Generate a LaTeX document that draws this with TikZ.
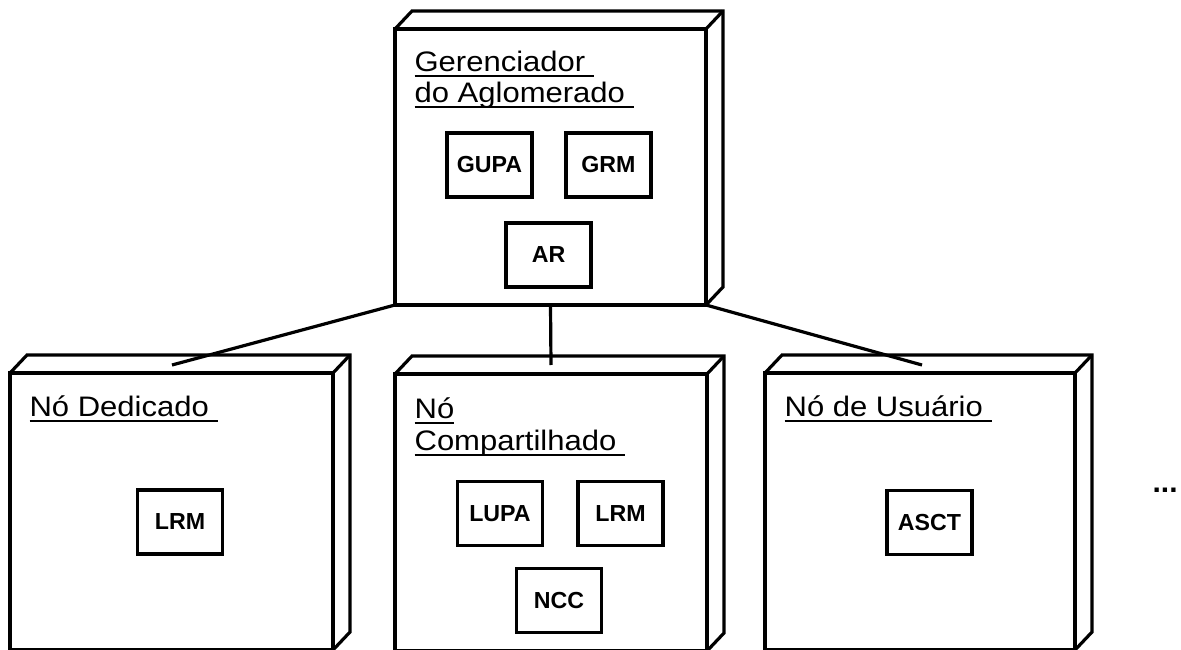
\documentclass[tikz,border=0pt]{standalone}
\usepackage{fontspec}
\setmainfont[FakeStretch=1.1]{Liberation Sans}
\newfontfamily\compfont{Liberation Sans}
\usetikzlibrary{calc}
\newcommand\myul[1]{\setbox0\hbox{#1}\rlap{\rule[-5.5pt]{\wd0}{1.7pt}}\box0}
\newcommand\cubesides[1]{\draw[line join=miter] (#1.north west) -- ++(17,-18) -| ($(#1.south east)+(17,-18)$) -- (#1.south east);
  \draw (#1.north east) -- ++(17,-18);}
\begin{document}
\begin{tikzpicture}[x=1pt,y=-1pt, line width=3.2pt,
  face/.style={draw, rectangle, inner sep=0pt, outer sep=0pt},
  comp/.style={draw, rectangle, minimum width=85pt, minimum height=64pt, inner sep=0pt, font=\compfont\fontsize{23.2}{26}\selectfont\bfseries},
  title/.style={anchor=base west, inner sep=0pt, font=\fontsize{28.2}{31}\selectfont},
  conn/.style={line width=3.2pt}]
\useasboundingbox (0,0) rectangle (1181,650);
% front faces
\node[face, minimum width=311pt, minimum height=276pt] (ger) at (550.5,167) {};
\node[face, minimum width=323pt, minimum height=277pt] (ded) at (171.5,511.5) {};
\node[face, minimum width=312pt, minimum height=277pt] (com) at (551,512.5) {};
\node[face, minimum width=310pt, minimum height=277pt] (usu) at (920,511.5) {};
\cubesides{ger}
\cubesides{ded}
\cubesides{com}
\cubesides{usu}
% connector ends on top faces
\coordinate (cded) at ($(ded.north)+(0.5,-8)$);
\coordinate (ccom) at ($(com.north)+(0,-9)$);
\coordinate (cusu) at ($(usu.north)+(2,-8)$);
\draw[conn] (ger.south west) -- (cded);
\draw[conn] (ger.south) -- (ccom);
\draw[conn] (ger.south east) -- (cusu);
% titles
\node[title] (tger) at (413,71.7) {\vtop{\baselineskip=31pt\hbox{\myul{Gerenciador\ }}\hbox{\myul{do Aglomerado\ }}}};
\node[title] (tded) at (28,416.5) {\myul{Nó Dedicado\ }};
\node[title] (tcom) at (413,418.5) {\vtop{\baselineskip=31.5pt\hbox{\myul{Nó}}\hbox{\myul{Compartilhado\ }}}};
\node[title] (tusu) at (783,416.5) {\myul{Nó de Usuário\ }};
% components
\node[comp] (gupa) at (489.5,165) {GUPA};
\node[comp] (grm) at (608.5,165) {GRM};
\node[comp] (ar) at (548.5,255) {AR};
\node[comp] (lrma) at (180,522) {LRM};
\node[comp] (lupa) at (500,513.5) {LUPA};
\node[comp] (lrmb) at (620.5,513.5) {LRM};
\node[comp] (ncc) at (559,600.5) {NCC};
\node[comp] (asct) at (929.5,522.5) {ASCT};
\node[title, font=\compfont\fontsize{30}{31}\selectfont\bfseries] (dots) at (1151,492) {...};
\end{tikzpicture}
\end{document}
